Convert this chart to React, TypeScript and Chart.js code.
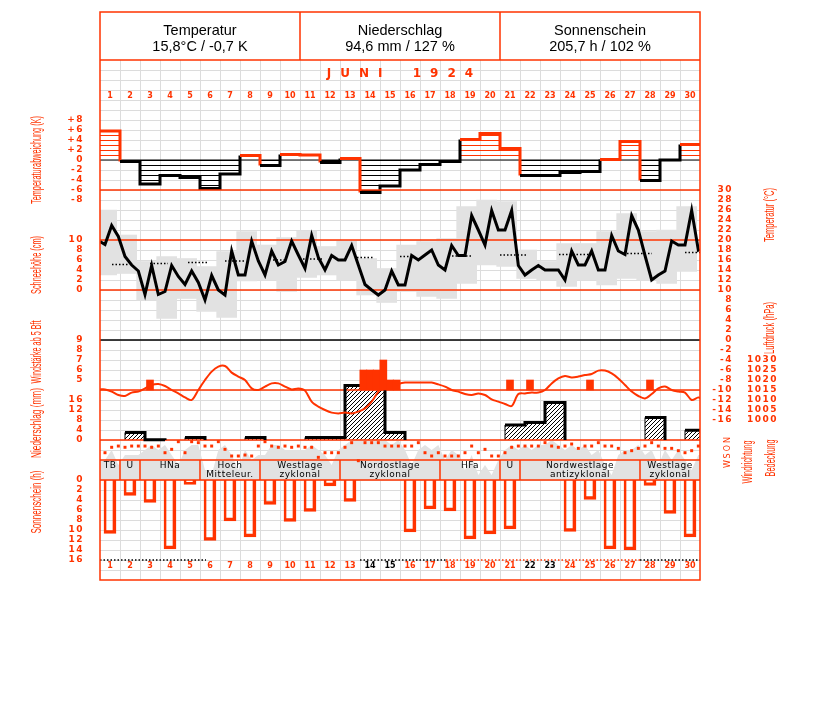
import { useEffect, useRef } from "react";
import { Chart, registerables } from "chart.js";

Chart.register(...registerables);

// ---------------- data ----------------
const dayNumbers = [1, 2, 3, 4, 5, 6, 7, 8, 9, 10, 11, 12, 13, 14, 15, 16, 17, 18, 19, 20, 21, 22, 23, 24, 25, 26, 27, 28, 29, 30];
const headerTitles = ["Temperatur", "Niederschlag", "Sonnenschein"];
const headerValues = ["15,8°C / -0,7 K", "94,6 mm / 127 %", "205,7 h / 102 %"];
const monthTitle = "JUNI 1924";

// daily mean temperature deviation (K)
const tempDeviation = [5.8, -0.3, -4.8, -3.1, -3.5, -5.7, -2.8, 0.9, -1.1, 1.1, 1.0, -0.5, 0.3, -6.5, -5.2, -2.0, -0.9, -0.3, 4.1, 5.3, 2.3, -3.1, -3.1, -2.5, -2.3, 0.1, 3.7, -4.1, 0.0, 3.1];

// temperature, three observations per day (°C)
const tempObs = [
  19.1, 22.9, 20.7, 16.7, 15.0, 13.8, 9.1, 14.9, 9.1, 9.7, 14.9, 12.7, 11.1, 13.8, 11.5,
  8.0, 12.9, 10.0, 9.0, 17.8, 13.0, 13.0, 19.8, 15.8, 13.0, 17.8, 15.0, 15.7, 19.8, 17.0,
  14.3, 20.9, 16.5, 14.0, 16.9, 16.0, 16.0, 18.9, 15.0, 11.1, 10.0, 9.0, 10.0, 13.8, 11.0,
  11.0, 16.9, 16.0, 17.0, 18.0, 15.0, 14.0, 18.9, 16.9, 16.9, 24.9, 22.0, 19.0, 25.9, 22.0,
  22.0, 25.9, 14.9, 13.0, 14.0, 14.9, 14.0, 14.0, 14.0, 12.0, 17.8, 15.0, 15.0, 17.8, 14.0,
  14.0, 20.9, 17.8, 17.1, 24.9, 22.0, 16.9, 12.0, 13.0, 13.8, 19.8, 19.0, 19.0, 25.9, 18.0,
];
const tempEdges = [19.7, 18.2];
const tempMax = [26.0, 21.0, 15.7, 16.7, 16.3, 14.7, 17.7, 21.7, 19.0, 20.5, 21.8, 18.7, 19.8, 16.3, 14.3, 19.0, 19.7, 20.3, 26.7, 28.0, 27.7, 18.0, 15.7, 19.3, 19.3, 21.7, 25.3, 21.7, 22.0, 26.7];
const tempMin = [13.0, 13.3, 8.0, 4.3, 8.3, 5.7, 4.5, 11.8, 12.0, 9.7, 12.5, 13.0, 12.0, 9.0, 7.5, 9.7, 8.7, 8.3, 11.3, 15.0, 14.7, 12.3, 12.0, 10.7, 12.0, 11.0, 12.3, 12.0, 11.3, 13.7];

// long-term mean temperature (dotted pieces)
const normalStart = [0.6, 2.5, 4.4, 6.25, 8.65, 10.15, 12.85, 15.0, 17.6, 20.0, 22.95, 26.35, 29.25];
const normalEnd = [1.4, 3.4, 5.35, 7.25, 9.35, 11.1, 13.65, 15.5, 18.6, 21.3, 24.5, 27.6, 30.0];
const normalTemp = [15.1, 15.3, 15.5, 15.8, 16.0, 16.2, 16.5, 16.7, 16.8, 17.0, 17.1, 17.3, 17.5];

// air pressure, three observations per day (hPa)
const pressureObs = [
  1015.3, 1014.2, 1012.5, 1012.0, 1013.7, 1014.2, 1015.8, 1017.5, 1018.0, 1017.0, 1015.0, 1013.3, 1011.3, 1010.0, 1015.0,
  1020.0, 1024.2, 1026.7, 1027.0, 1023.7, 1021.7, 1020.0, 1015.8, 1015.0, 1016.7, 1018.3, 1018.3, 1016.7, 1015.3, 1015.8,
  1014.7, 1009.2, 1006.7, 1005.0, 1003.7, 1003.3, 1003.7, 1003.3, 1004.2, 1005.8, 1009.2, 1014.2, 1017.5, 1016.7, 1018.0,
  1018.7, 1018.7, 1018.7, 1018.7, 1018.7, 1017.8, 1016.7, 1015.0, 1014.2, 1013.0, 1012.5, 1013.3, 1012.5, 1010.3, 1009.2,
  1008.0, 1007.0, 1013.0, 1013.3, 1013.7, 1013.7, 1015.0, 1018.3, 1020.8, 1022.0, 1021.3, 1021.7, 1022.5, 1023.0, 1024.7,
  1024.7, 1023.3, 1020.8, 1017.5, 1014.2, 1012.0, 1010.8, 1013.0, 1015.8, 1016.7, 1015.0, 1014.2, 1013.7, 1010.0, 1011.3,
];
const pressureEdges = [1015.3, 1011.0];

// wind force from 5 Bft (day, observation index 0..2, Bft)
const windDay = [3, 14, 14, 14, 15, 15, 15, 21, 22, 25, 28];
const windObs = [1, 0, 1, 2, 0, 1, 2, 1, 1, 1, 1];
const windBft = [5, 6, 6, 6, 7, 5, 5, 5, 5, 5, 5];
const windBase = 4;

// daily precipitation (mm)
const precipitation = [0, 3.0, 0.1, 0, 1.0, 0, 0, 1.0, 0, 0, 1.0, 1.0, 21.8, 21.8, 3.0, 0, 0, 0, 0, 0, 6.0, 7.0, 15.0, 0, 0, 0, 0, 9.0, 0, 3.9];

// cloud cover, three observations per day (octas)
const cloudObs = [
  4, 6, 3, 5, 5, 5, 6, 7, 6, 7, 5, 3, 6, 7, 7, 2, 1, 6, 7, 5, 2, 6, 4, 5, 5, 7, 7, 6, 6, 6,
  6, 7, 6, 5, 3, 6, 7, 8, 8, 8, 8, 8, 8, 7, 8, 6, 3, 6, 7, 6, 7, 4, 6, 5, 2, 5, 1, 3, 1, 4,
  6, 7, 6, 7, 6, 7, 7, 8, 7, 6, 7, 6, 7, 5, 6, 3, 1, 5, 6, 6, 7, 5, 6, 3, 6, 4, 6, 4, 2, 5,
];

// wind direction, three observations per day (degrees)
const windDirObs = [
  143, 82, 68, 82, 68, 68, 68, 82, 68, 143, 105, 19, 143, 19, 30, 68, 68, 19, 105, 180, 180, 169, 180, 68, 19, 68, 82, 68, 82, 68,
  82, 82, 195, 143, 143, 143, 82, 30, 233, 30, 30, 30, 68, 68, 68,
  68, 68, 30, 143, 180, 143, 180, 180, 180, 143, 68, 143, 105, 180, 180, 143, 82, 68, 68, 68, 68, 30, 68, 82, 68, 45, 94, 68, 68, 30,
  68, 68, 94, 143, 120, 94, 68, 30, 68, 94, 94, 120, 143, 120, 68,
];

// daily sunshine (h)
const sunshine = [10.7, 3.1, 4.5, 13.8, 0.9, 12.1, 8.2, 11.4, 4.9, 8.3, 6.3, 1.2, 4.3, 0, 0, 10.4, 5.8, 6.2, 11.8, 10.8, 9.8, 0, 0, 10.3, 3.9, 13.8, 14.0, 1.1, 6.7, 11.4];
const sunRefValue = 16;
const sunRefStart = [0, 13, 17.3, 27];
const sunRefEnd = [5.3, 17.3, 27, 30];
const sunRefRed = [false, false, true, false];

// Großwetterlagen
const weatherStart = [1, 2, 3, 6, 9, 13, 18, 21, 22, 28];
const weatherEnd = [1, 2, 5, 8, 12, 17, 20, 21, 27, 30];
const weatherLabel = ["TB", "U", "HNa", "Hoch\nMitteleur.", "Westlage\nzyklonal", "Nordostlage\nzyklonal", "HFa", "U", "Nordwestlage\nantizyklonal", "Westlage\nzyklonal"];

// tick labels
const devTicks = [8, 6, 4, 2, 0, -2, -4, -6, -8];
const snowTicks = [10, 8, 6, 4, 2, 0];
const windTicks = [9, 8, 7, 6, 5];
const precTicks = [16, 12, 8, 4, 0];
const sunTicks = [0, 2, 4, 6, 8, 10, 12, 14, 16];
const tempTicks = [30, 28, 26, 24, 22, 20, 18, 16, 14, 12, 10, 8, 6, 4, 2, 0, -2, -4, -6, -8, -10, -12, -14, -16];
const pressureTicks = [1030, 1025, 1020, 1015, 1010, 1005, 1000];
const dirTicks = [0, 90, 180, 270];
const dirLabels = ["N", "O", "S", "W"];

// reference lines
const tempRefRed = [30, 20, 10];
const tempRefBlack = [0];
const pressureRef = [1015];

// ---------------- styles ----------------
const RED = "#ff3300";
const GRID = "#dcdcdc";
const GRAY = "#e2e2e2";
const NONE = "rgba(0,0,0,0)";
const HEADER_BOTTOM = 60;
const ROW_TOP = 460;
const ROW_BOTTOM = 480;
const TICK_FONT = "bold 9px 'DejaVu Sans', sans-serif";
const TITLE_FONT = "14px 'Liberation Sans Narrow', 'Liberation Sans', sans-serif";
const HEADER_FONT = "14.5px 'Liberation Sans', Arial, sans-serif";
const WT_FONT = "9px 'DejaVu Sans', sans-serif";

function hatchH(color: string) {
  const c = document.createElement("canvas");
  c.width = 4;
  c.height = 5;
  const g = c.getContext("2d")!;
  g.fillStyle = color;
  g.fillRect(0, 0, 4, 1);
  return g.createPattern(c, "repeat")!;
}
function hatchDiag() {
  const c = document.createElement("canvas");
  c.width = 4;
  c.height = 4;
  const g = c.getContext("2d")!;
  g.fillStyle = "#ffffff";
  g.fillRect(0, 0, 4, 4);
  g.fillStyle = "#000000";
  for (let i = 0; i < 4; i++) g.fillRect(3 - i, i, 1, 1);
  return g.createPattern(c, "repeat")!;
}

function vText(ctx: CanvasRenderingContext2D, text: string, x: number, y: number, maxW?: number) {
  ctx.save();
  ctx.translate(x, y);
  ctx.rotate(-Math.PI / 2);
  if (maxW) ctx.fillText(text, 0, 0, maxW);
  else ctx.fillText(text, 0, 0);
  ctx.restore();
}

const decor = {
  id: "decor",
  beforeDatasetsDraw(chart: any) {
    const { ctx, chartArea: a, scales } = chart;
    ctx.save();
    ctx.strokeStyle = GRID;
    ctx.lineWidth = 1;
    ctx.beginPath();
    for (let d = 1; d < 30; d++) {
      const x = Math.round(scales.x.getPixelForValue(d)) + 0.5;
      ctx.moveTo(x, HEADER_BOTTOM);
      ctx.lineTo(x, a.bottom);
    }
    for (let v = 18; v > -84; v -= 2) {
      const y = Math.round(scales.dev.getPixelForValue(v)) + 0.5;
      ctx.moveTo(a.left, y);
      ctx.lineTo(a.right, y);
    }
    ctx.stroke();
    ctx.restore();
  },
  afterDatasetsDraw(chart: any) {
    const { ctx, chartArea: a, scales } = chart;
    const X = (v: number) => scales.x.getPixelForValue(v);
    ctx.save();

    // weather-type row
    ctx.strokeStyle = RED;
    ctx.lineWidth = 1.5;
    ctx.beginPath();
    ctx.moveTo(a.left, ROW_TOP);
    ctx.lineTo(a.right, ROW_TOP);
    ctx.moveTo(a.left, ROW_BOTTOM);
    ctx.lineTo(a.right, ROW_BOTTOM);
    weatherEnd.forEach((e) => {
      if (e < 30) {
        const x = Math.round(X(e));
        ctx.moveTo(x, ROW_TOP);
        ctx.lineTo(x, ROW_BOTTOM);
      }
    });
    ctx.stroke();
    ctx.fillStyle = "#000";
    ctx.font = WT_FONT;
    ctx.textAlign = "center";
    ctx.textBaseline = "middle";
    (ctx as any).letterSpacing = "0.5px";
    weatherLabel.forEach((lab, i) => {
      const cx = (X(weatherStart[i] - 1) + X(weatherEnd[i])) / 2;
      lab.split("\n").forEach((ln, j) => ctx.fillText(ln, cx, ROW_TOP + 6 + j * 9));
    });
    (ctx as any).letterSpacing = "0px";

    // header and frame
    ctx.strokeStyle = RED;
    ctx.lineWidth = 1.5;
    ctx.beginPath();
    ctx.moveTo(a.left, HEADER_BOTTOM);
    ctx.lineTo(a.right, HEADER_BOTTOM);
    [1, 2].forEach((f) => {
      const x = a.left + ((a.right - a.left) * f) / 3;
      ctx.moveTo(x, a.top);
      ctx.lineTo(x, HEADER_BOTTOM);
    });
    ctx.stroke();
    ctx.strokeRect(a.left, a.top, a.right - a.left, a.bottom - a.top);

    ctx.fillStyle = "#000";
    ctx.font = HEADER_FONT;
    headerTitles.forEach((t, i) => {
      const cx = a.left + ((a.right - a.left) * (i + 0.5)) / 3;
      ctx.fillText(t, cx, 31);
      ctx.fillText(headerValues[i], cx, 47);
    });

    // month title
    ctx.fillStyle = RED;
    ctx.font = "bold 12px 'DejaVu Sans', sans-serif";
    ctx.textAlign = "left";
    const gap = 9;
    const chars = monthTitle.split("");
    let total = -gap;
    chars.forEach((ch) => (total += ctx.measureText(ch).width + gap + (ch === " " ? 8 : 0)));
    let mx = (a.left + a.right) / 2 - total / 2;
    chars.forEach((ch) => {
      ctx.fillText(ch, mx, 74);
      mx += ctx.measureText(ch).width + gap + (ch === " " ? 8 : 0);
    });

    // day labels
    ctx.font = "bold 8px 'DejaVu Sans', sans-serif";
    ctx.textAlign = "center";
    dayNumbers.forEach((d, i) => {
      const cx = X(d - 0.5);
      ctx.fillStyle = RED;
      ctx.fillText(String(d), cx, 96);
      ctx.fillStyle = sunshine[i] === 0 ? "#000" : RED;
      ctx.fillText(String(d), cx, 566);
    });

    // tick labels
    ctx.fillStyle = RED;
    ctx.font = TICK_FONT;
    ctx.textAlign = "right";
    (ctx as any).letterSpacing = "1.5px";
    const left = (vals: number[], scale: any, fmt: (v: number) => string) =>
      vals.forEach((v) => ctx.fillText(fmt(v), 84, scale.getPixelForValue(v)));
    left(devTicks, scales.dev, (v) => (v > 0 ? "+" + v : String(v)));
    left(snowTicks, scales.snow, String);
    left(windTicks, scales.wind, String);
    left(precTicks, scales.prec, String);
    left(sunTicks, scales.sun, String);
    tempTicks.forEach((v) => ctx.fillText(String(v), 733, scales.temp.getPixelForValue(v)));
    pressureTicks.forEach((v) => ctx.fillText(String(v), 778, scales.pres.getPixelForValue(v)));
    (ctx as any).letterSpacing = "0px";
    ctx.textAlign = "center";
    ctx.font = "8px 'DejaVu Sans', sans-serif";
    dirTicks.forEach((v, i) => vText(ctx, dirLabels[i], 728, scales.dir.getPixelForValue(v)));

    // axis titles
    ctx.font = TITLE_FONT;
    vText(ctx, "Temperaturabweichung (K)", 37, 160, 88);
    vText(ctx, "Schneehöhe (cm)", 37, 265, 58);
    vText(ctx, "Windstärke ab 5 Bft", 37, 352, 63);
    vText(ctx, "Niederschlag (mm)", 37, 423, 70);
    vText(ctx, "Sonnenschein (h)", 37, 502, 63);
    vText(ctx, "Temperatur (°C)", 770, 215, 54);
    vText(ctx, "Luftdruck (hPa)", 770, 328, 52);
    vText(ctx, "Windrichtung", 748, 462, 43);
    vText(ctx, "Bedeckung", 771, 458, 37);
    ctx.restore();
  },
};

export default function App() {
  const ref = useRef<HTMLCanvasElement>(null);
  useEffect(() => {
    const canvas = ref.current!;
    const redH = hatchH(RED);
    const blackH = hatchH("#000");
    const diag = hatchDiag();
    const obsX = (k: number) => k / 3 + 0.25;

    const hline = (axis: string, v: number, color: string, width: number, order: number) => ({
      type: "line",
      data: [{ x: 0, y: v }, { x: 30, y: v }],
      yAxisID: axis,
      borderColor: color,
      borderWidth: width,
      pointRadius: 0,
      fill: false,
      order,
    });

    const devData = tempDeviation.map((v, i) => ({ x: i, y: v })).concat([{ x: 30, y: tempDeviation[29] }]);
    const tempLine = [{ x: 0, y: tempEdges[0] }, ...tempObs.map((v, k) => ({ x: obsX(k), y: v })), { x: 30, y: tempEdges[1] }];
    const tempBoxes = dayNumbers.map((d, i) => ({ x: d - 2 / 3, y: [tempMin[i], tempMax[i]] }));
    const normalData: any[] = [];
    normalStart.forEach((s, i) => {
      normalData.push({ x: s, y: normalTemp[i] }, { x: normalEnd[i], y: normalTemp[i] }, { x: normalEnd[i], y: null });
    });
    const presData = [{ x: 0, y: pressureEdges[0] }, ...pressureObs.map((v, k) => ({ x: obsX(k), y: v })), { x: 30, y: pressureEdges[1] }];
    const windData = windDay.map((d, i) => ({ x: d - 1 + (windObs[i] + 0.5) / 3, y: [windBase, windBft[i]] }));
    const precThick = precipitation.map((v, i) => ({ x: i + 0.25, y: v })).concat([{ x: 30.25, y: precipitation[29] }]);
    const precThin = [{ x: 0.25, y: 0 }].concat(precipitation.map((v, i) => ({ x: i + 1.25, y: v })));
    const cloudData = [{ x: 0, y: cloudObs[0] }, ...cloudObs.map((v, k) => ({ x: obsX(k), y: v })), { x: 30, y: cloudObs[89] }];
    const dirData = windDirObs.map((v, k) => ({ x: obsX(k), y: v }));
    const sunData = dayNumbers.map((d, i) => ({ x: d - 0.5, y: sunshine[i] }));
    const sunBlack: any[] = [];
    const sunRed: any[] = [];
    sunRefStart.forEach((s, i) => {
      const tgt = sunRefRed[i] ? sunRed : sunBlack;
      tgt.push({ x: s, y: sunRefValue }, { x: sunRefEnd[i], y: sunRefValue }, { x: sunRefEnd[i], y: null });
    });

    const datasets: any[] = [
      { type: "line", data: cloudData, yAxisID: "cloud", borderWidth: 0, borderColor: NONE, backgroundColor: GRAY, fill: "origin", pointRadius: 0, order: 100 },
      { type: "bar", data: tempBoxes, yAxisID: "temp", backgroundColor: GRAY, borderWidth: 0, barThickness: 20, grouped: false, order: 95 },
      hline("dev", 0, "#000", 1, 85),
      { type: "line", data: devData, yAxisID: "dev", stepped: true, borderWidth: 3, pointRadius: 0, fill: { target: "origin", above: redH, below: blackH }, segment: { borderColor: (c: any) => (c.p0.parsed.y > 0 ? RED : "#000") }, borderColor: "#000", order: 80 },
      { type: "bar", data: sunData, yAxisID: "sun", backgroundColor: NONE, borderColor: RED, borderWidth: { top: 0, left: 2, right: 3, bottom: 3 }, borderSkipped: false, barThickness: 12, grouped: false, order: 80 },
      { type: "line", data: precThin, yAxisID: "prec", stepped: "after", borderWidth: 1, pointRadius: 0, fill: "origin", backgroundColor: diag, borderColor: "#000", segment: { borderColor: (c: any) => (c.p1.parsed.y > 0 ? "#000" : NONE) }, order: 76 },
      ...tempRefRed.map((v) => hline("temp", v, RED, 1.5, 75)),
      ...tempRefBlack.map((v) => hline("temp", v, "#000", 1.5, 75)),
      ...pressureRef.map((v) => hline("pres", v, RED, 1.5, 75)),
      hline("prec", 0, RED, 1.5, 75),
      { type: "line", data: precThick, yAxisID: "prec", stepped: true, borderWidth: 3, pointRadius: 0, fill: false, borderColor: "#000", segment: { borderColor: (c: any) => (c.p0.parsed.y > 0 ? "#000" : NONE) }, order: 74 },
      { type: "line", data: sunBlack, yAxisID: "sun", borderColor: "#000", borderWidth: 1.5, borderDash: [1.5, 2], pointRadius: 0, spanGaps: false, order: 70 },
      { type: "line", data: sunRed, yAxisID: "sun", borderColor: RED, borderWidth: 1.5, borderDash: [1.5, 2], pointRadius: 0, spanGaps: false, order: 70 },
      { type: "line", data: normalData, yAxisID: "temp", borderColor: "#000", borderWidth: 1.5, borderDash: [1.5, 2], pointRadius: 0, spanGaps: false, order: 60 },
      { type: "line", data: tempLine, yAxisID: "temp", borderColor: "#000", borderWidth: 3, pointRadius: 0, order: 50 },
      { type: "line", data: presData, yAxisID: "pres", borderColor: RED, borderWidth: 2, pointRadius: 0, tension: 0.3, order: 40 },
      { type: "bar", data: windData, yAxisID: "wind", backgroundColor: RED, borderWidth: 0, barThickness: 7, grouped: false, order: 30 },
      { type: "line", data: dirData, yAxisID: "dir", showLine: false, pointStyle: "rect", pointRadius: 2.1, pointBorderWidth: 0, pointBackgroundColor: RED, order: 20 },
    ];

    const y = (min: number, max: number, reverse = false) => ({ type: "linear", axis: "y", position: "left", min, max, reverse, display: false, bounds: "data" });

    const chart = new Chart(canvas, {
      type: "line",
      data: { datasets },
      options: {
        animation: false,
        responsive: false,
        devicePixelRatio: 1,
        events: [],
        layout: { padding: { left: 100, right: 127, top: 12, bottom: 122 } },
        plugins: { legend: { display: false }, tooltip: { enabled: false }, title: { display: false } },
        elements: { point: { radius: 0 }, line: { tension: 0 } },
        scales: {
          x: { type: "linear", min: 0, max: 30, display: false, offset: false, bounds: "data" },
          dev: y(-84, 29.6),
          snow: y(-58, 55.6),
          temp: y(-48, 65.6),
          pres: y(920, 1204),
          wind: y(-15, 41.8),
          prec: y(-56, 171.2),
          cloud: y(-20, 93.6),
          dir: y(-4815, 1575, true),
          sun: y(-93.6, 20, true),
        },
      } as any,
      plugins: [decor as any],
    } as any);
    return () => chart.destroy();
  }, []);

  return (
    <canvas
      ref={ref}
      width={827}
      height={702}
      style={{ position: "absolute", left: 0, top: 0, width: 827, height: 702, background: "#fff" }}
    />
  );
}
